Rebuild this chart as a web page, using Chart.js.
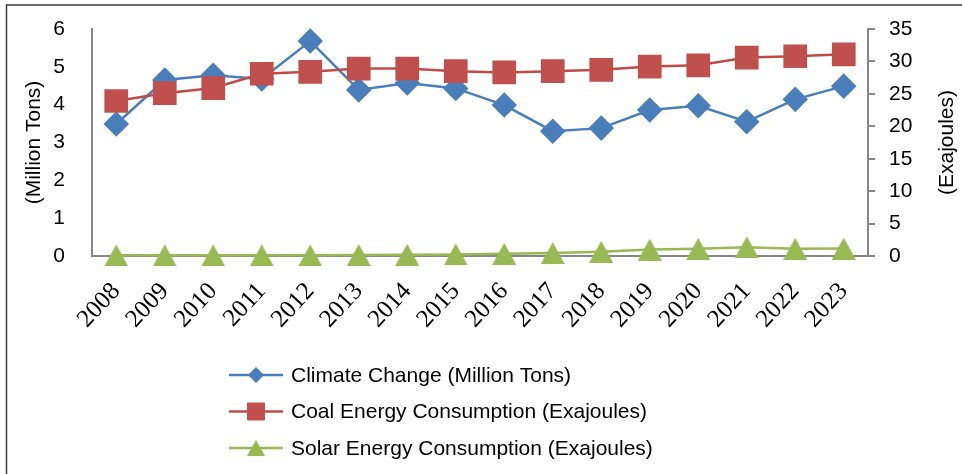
<!DOCTYPE html>
<html>
<head>
<meta charset="utf-8">
<script src="https://cdn.jsdelivr.net/npm/chart.js@4.4.1/dist/chart.umd.min.js"></script>
<style>
  body { margin: 0; background: #fff; }
  canvas { display: block; }
</style>
</head>
<body>
<canvas id="chart" width="962" height="474"></canvas>
<script>
// Values
const years = ['2008', '2009', '2010', '2011', '2012', '2013', '2014', '2015',
               '2016', '2017', '2018', '2019', '2020', '2021', '2022', '2023'];
const climateChange = [3.49, 4.65, 4.78, 4.68, 5.68, 4.39, 4.57, 4.43,
                       3.99, 3.30, 3.38, 3.86, 3.97, 3.55, 4.14, 4.49];
const coalConsumption = [23.9, 25.1, 25.9, 28.1, 28.4, 28.9, 28.9, 28.5,
                         28.3, 28.5, 28.7, 29.2, 29.4, 30.6, 30.8, 31.1];
const solarConsumption = [0.1, 0.1, 0.1, 0.1, 0.1, 0.15, 0.2, 0.25,
                          0.35, 0.45, 0.65, 1.0, 1.1, 1.35, 1.1, 1.15];
const seriesLabels = ['Climate Change (Million Tons)',
                      'Coal Energy Consumption (Exajoules)',
                      'Solar Energy Consumption (Exajoules)'];
const leftTitle = '(Million Tons)';
const rightTitle = '(Exajoules)';

const sansFont = "'Liberation Sans', Arial, sans-serif";
const serifFont = "'Liberation Serif', 'Times New Roman', serif";
const axisGray = '#868686';
const solarColor = '#98B954';

// Excel-style triangle: centred on its bounding box, not its centroid
function makeTriangle(w, h, color) {
    const c = document.createElement('canvas');
    c.width = w;
    c.height = h;
    const g = c.getContext('2d');
    g.fillStyle = color;
    g.beginPath();
    g.moveTo(w / 2, 0);
    g.lineTo(w, h);
    g.lineTo(0, h);
    g.closePath();
    g.fill();
    return c;
}
const triangleBig = makeTriangle(24, 22, solarColor);
const triangleSmall = makeTriangle(18, 16, solarColor);

// Frame lines (top and left edge) like the original figure
const framePlugin = {
    id: 'frame',
    beforeDraw(chart) {
        const ctx = chart.ctx;
        ctx.save();
        ctx.strokeStyle = '#3a3a3a';
        ctx.lineWidth = 1.5;
        ctx.beginPath();
        ctx.moveTo(6.5, chart.height);
        ctx.lineTo(6.5, 5);
        ctx.lineTo(chart.width, 5);
        ctx.stroke();
        ctx.restore();
    }
};

// Right axis title reads bottom-to-top in the original
const rightTitlePlugin = {
    id: 'rightTitle',
    afterDraw(chart) {
        const area = chart.chartArea;
        const ctx = chart.ctx;
        ctx.save();
        ctx.translate(947, (area.top + area.bottom) / 2);
        ctx.rotate(-Math.PI / 2);
        ctx.fillStyle = '#000';
        ctx.font = '21px ' + sansFont;
        ctx.textAlign = 'center';
        ctx.textBaseline = 'middle';
        ctx.fillText(rightTitle, 0, 0);
        ctx.restore();
    }
};

// Vertical legend under the plot
const legendPlugin = {
    id: 'stackedLegend',
    afterDraw(chart) {
        const ctx = chart.ctx;
        const legendStyle = ['rectRot', 'rect', triangleSmall];
        const legendRadius = [7.5, 12, 10];
        ctx.save();
        chart.data.datasets.forEach((ds, i) => {
            const y = 375 + i * 36.5;
            ctx.strokeStyle = ds.borderColor;
            ctx.lineWidth = 2.5;
            ctx.beginPath();
            ctx.moveTo(229, y);
            ctx.lineTo(283, y);
            ctx.stroke();
            ctx.fillStyle = ds.pointBackgroundColor;
            ctx.strokeStyle = ds.pointBackgroundColor;
            ctx.lineWidth = 1;
            Chart.helpers.drawPoint(ctx, {
                pointStyle: legendStyle[i],
                radius: legendRadius[i],
                rotation: 0,
                borderWidth: 1
            }, 256, y);
            ctx.fillStyle = '#000';
            ctx.font = '21px ' + sansFont;
            ctx.textBaseline = 'middle';
            ctx.textAlign = 'left';
            ctx.fillText(ds.label, 291, y + 1);
        });
        ctx.restore();
    }
};

const ctx = document.getElementById('chart').getContext('2d');

new Chart(ctx, {
    type: 'line',
    data: {
        labels: years,
        datasets: [{
            label: seriesLabels[0],
            data: climateChange,
            yAxisID: 'y',
            borderColor: '#4A7EBB',
            backgroundColor: '#4A7EBB',
            pointBackgroundColor: '#4A7EBB',
            pointBorderColor: '#4A7EBB',
            pointStyle: 'rectRot',
            pointRadius: 11,
            borderWidth: 2.5,
            clip: false,
            order: 3
        }, {
            label: seriesLabels[1],
            data: coalConsumption,
            yAxisID: 'y1',
            borderColor: '#BE4B48',
            backgroundColor: '#BE4B48',
            pointBackgroundColor: '#C0504D',
            pointBorderColor: '#C0504D',
            pointStyle: 'rect',
            pointRadius: 15,
            borderWidth: 2.5,
            clip: false,
            order: 2
        }, {
            label: seriesLabels[2],
            data: solarConsumption,
            yAxisID: 'y1',
            borderColor: solarColor,
            backgroundColor: solarColor,
            pointBackgroundColor: solarColor,
            pointBorderColor: solarColor,
            pointStyle: triangleBig,
            pointRadius: 12,
            borderWidth: 2.5,
            clip: false,
            order: 1
        }]
    },
    options: {
        responsive: false,
        animation: false,
        layout: {
            padding: { top: 29, bottom: 138, left: 0, right: 0 }
        },
        plugins: {
            legend: { display: false },
            tooltip: { enabled: false }
        },
        scales: {
            x: {
                type: 'category',
                offset: true,
                grid: { display: false, drawTicks: false },
                border: { display: true, color: axisGray, width: 2 },
                ticks: {
                    color: '#000',
                    font: { family: serifFont, size: 25 },
                    minRotation: 47,
                    maxRotation: 47,
                    autoSkip: false,
                    padding: 21
                },
                afterFit: scale => { scale.height = 80; }
            },
            y: {
                position: 'left',
                min: 0,
                max: 6,
                grid: { display: false, drawTicks: false },
                border: { display: true, color: axisGray, width: 2 },
                ticks: {
                    stepSize: 1,
                    color: '#000',
                    font: { family: sansFont, size: 21 },
                    padding: 27
                },
                title: {
                    display: true,
                    text: leftTitle,
                    color: '#000',
                    font: { family: sansFont, size: 21 },
                    padding: { top: 22, bottom: 0 }
                },
                afterFit: scale => {
                    scale.width = 92;
                    scale.paddingTop = 12;
                    scale.paddingBottom = 12;
                }
            },
            y1: {
                position: 'right',
                min: 0,
                max: 35,
                grid: {
                    display: true,
                    drawOnChartArea: false,
                    drawTicks: true,
                    tickLength: 7,
                    color: axisGray,
                    lineWidth: 2
                },
                border: { display: true, color: axisGray, width: 2 },
                ticks: {
                    stepSize: 5,
                    color: '#000',
                    font: { family: sansFont, size: 21 },
                    padding: 14
                },
                afterFit: scale => {
                    scale.width = 94;
                    scale.paddingTop = 12;
                    scale.paddingBottom = 12;
                }
            }
        }
    },
    plugins: [framePlugin, rightTitlePlugin, legendPlugin]
});
</script>
</body>
</html>
